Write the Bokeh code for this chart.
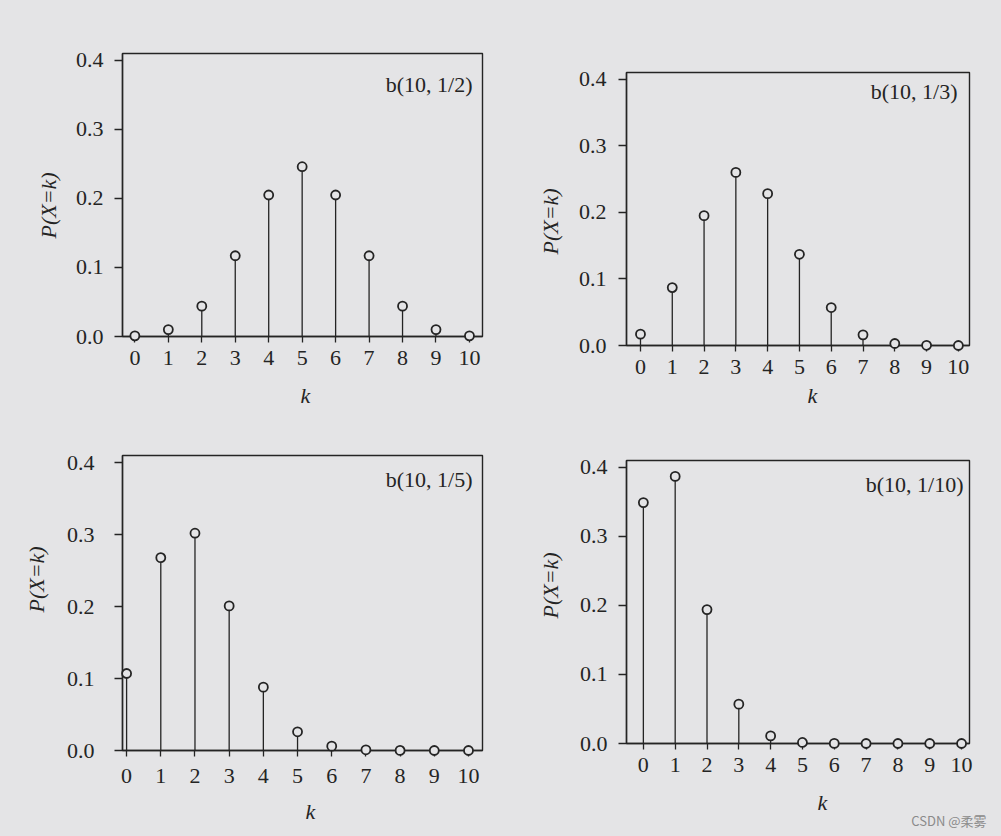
from bokeh.plotting import figure
from bokeh.layouts import column, row
from bokeh.models import (FixedTicker, NumeralTickFormatter, Label, Range1d, Title,
                          GlobalInlineStyleSheet)
from bokeh.embed import file_html
from bokeh.resources import INLINE

# ---------------- data ----------------
k_values = [0, 1, 2, 3, 4, 5, 6, 7, 8, 9, 10]
pmf_half = [0.001, 0.010, 0.044, 0.117, 0.205, 0.246, 0.205, 0.117, 0.044, 0.010, 0.001]
pmf_third = [0.017, 0.087, 0.195, 0.260, 0.228, 0.137, 0.057, 0.016, 0.003, 0.0003, 0.0]
pmf_fifth = [0.107, 0.268, 0.302, 0.201, 0.088, 0.026, 0.006, 0.001, 0.0001, 0.0, 0.0]
pmf_tenth = [0.349, 0.387, 0.194, 0.057, 0.011, 0.0015, 0.0001, 0.0, 0.0, 0.0, 0.0]
panel_titles = ["b(10, 1/2)", "b(10, 1/3)", "b(10, 1/5)", "b(10, 1/10)"]
y_tick_values = [0.0, 0.1, 0.2, 0.3, 0.4]
x_label = "k"
y_label = "P(X=k)"
watermark = "CSDN @柔雾"

# ---------------- style ----------------
PAPER = "#e4e4e6"
INK = "#242424"
FONT = "Liberation Serif"
FS = "22px"
Y_TOP = 0.41

# layout per panel (pixels): size, borders, x range, text offsets
specs = [
    dict(w=500, h=422, bl=122, br=17, bt=53, bb=86, x0=-0.37, x1=10.39,
         t_dx=-10, t_off=18, xs=8, ys=11, k_off=178, k_so=26, p_off=98, p_so=24),
    dict(w=493, h=420, bl=126, br=24, bt=72, bb=75, x0=-0.44, x1=10.35,
         t_dx=-12, t_off=6, xs=8, ys=12, k_off=181, k_so=8, p_off=91, p_so=26),
    dict(w=500, h=414, bl=122, br=18, bt=33, bb=86, x0=-0.12, x1=10.41,
         t_dx=-10, t_off=11, xs=12, ys=20, k_off=183, k_so=22, p_off=138, p_so=30),
    dict(w=493, h=416, bl=126, br=24, bt=40, bb=93, x0=-0.53, x1=10.25,
         t_dx=-6, t_off=11, xs=8, ys=11, k_off=191, k_so=26, p_off=125, p_so=28),
]


def style_axis(ax, tick_out, standoff):
    ax.major_label_text_font = FONT
    ax.major_label_text_font_size = FS
    ax.major_label_text_color = INK
    ax.major_label_standoff = standoff
    ax.major_tick_in = 0
    ax.major_tick_out = tick_out
    ax.minor_tick_in = 0
    ax.minor_tick_out = 0
    ax.axis_line_color = INK
    ax.axis_line_width = 1.4
    ax.major_tick_line_color = INK
    ax.major_tick_line_width = 1.3


def make_panel(vals, title, s):
    p = figure(width=s["w"], height=s["h"],
               x_range=Range1d(s["x0"], s["x1"]), y_range=Range1d(0, Y_TOP),
               output_backend="svg", toolbar_location=None,
               min_border_left=s["bl"], min_border_right=s["br"],
               min_border_top=s["bt"], min_border_bottom=s["bb"],
               background_fill_color=PAPER, border_fill_color=PAPER,
               outline_line_color=INK, outline_line_width=1.4)
    p.grid.visible = False

    p.segment(x0=k_values, y0=[0] * len(k_values), x1=k_values, y1=vals,
              line_color=INK, line_width=1.3)
    r = p.scatter(k_values, vals, marker="circle", size=9, fill_color=PAPER,
                  line_color=INK, line_width=1.8)
    r.level = "overlay"

    xa = p.xaxis[0]
    xa.ticker = FixedTicker(ticks=k_values)
    style_axis(xa, 6, s["xs"])

    ya = p.yaxis[0]
    ya.ticker = FixedTicker(ticks=y_tick_values)
    ya.formatter = NumeralTickFormatter(format="0.0")
    style_axis(ya, 8, s["ys"])

    # axis titles (placed as side titles so they can sit off-centre like the print)
    p.add_layout(Title(text=x_label, align="left", vertical_align="bottom",
                       offset=s["k_off"], standoff=s["k_so"], text_font=FONT,
                       text_font_size=FS, text_font_style="italic",
                       text_color=INK), "below")
    p.add_layout(Title(text=y_label, align="left", vertical_align="bottom",
                       offset=s["p_off"], standoff=s["p_so"], text_font=FONT,
                       text_font_size=FS, text_font_style="italic",
                       text_color=INK), "left")

    # panel title inside the frame, top right
    p.add_layout(Label(x=s["x1"], y=Y_TOP, x_offset=s["t_dx"], y_offset=-s["t_off"],
                       text=title, text_align="right", text_baseline="top",
                       text_font=FONT, text_font_size=FS, text_color=INK))
    return p


p1 = make_panel(pmf_half, panel_titles[0], specs[0])
p2 = make_panel(pmf_third, panel_titles[1], specs[1])
p3 = make_panel(pmf_fifth, panel_titles[2], specs[2])
p4 = make_panel(pmf_tenth, panel_titles[3], specs[3])

p4.add_layout(Title(text=watermark, align="right", vertical_align="top",
                    offset=-17, standoff=-34, text_font="Noto Sans CJK SC",
                    text_font_size="13px", text_font_style="normal",
                    text_color="#8a8a8a"), "below")

page_css = GlobalInlineStyleSheet(
    css="html, body { margin: 0; padding: 0; background-color: %s; }" % PAPER)

layout = row(column(p1, p3, spacing=0), column(p2, p4, spacing=0), spacing=0,
             stylesheets=[page_css])

open("out.html", "w").write(file_html(layout, INLINE))
